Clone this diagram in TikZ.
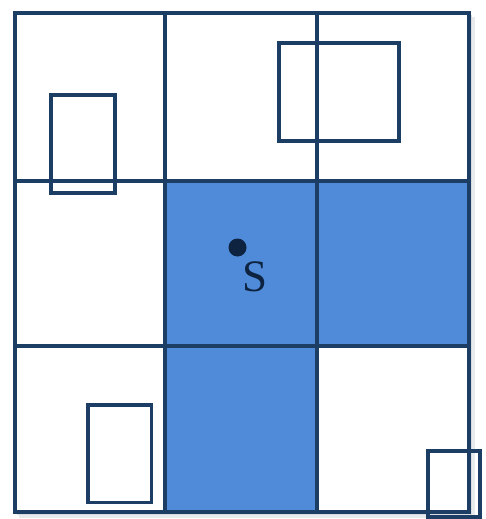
\documentclass[tikz,border=0pt]{standalone}
\usepackage{fontspec}
\setmainfont{Liberation Serif}
\definecolor{gridline}{HTML}{1C3D64}
\definecolor{dotcol}{HTML}{0D2340}
\definecolor{cellblue}{HTML}{4F8BD9}
\definecolor{shadowgray}{HTML}{D9DDE2}
\tikzset{
  gridpen/.style={draw=gridline, line width=3.2pt},
  boxpen/.style={draw=gridline, line width=3.2pt},
  bluecell/.style={fill=cellblue},
}
\begin{document}
\begin{tikzpicture}[x=1pt,y=-1pt]
\useasboundingbox (0,0) rectangle (485,519);
\fill[white] (0,0) rectangle (485,519);
% soft shadow
\fill[shadowgray!60] (19,17) rectangle (475,518);
\fill[shadowgray] (17,15) rectangle (472,515);
\fill[white] (15,13) rectangle (469,512);
% shaded cells
\fill[bluecell] (165,181) rectangle (469,346);
\fill[bluecell] (165,346) rectangle (317,512);
% grid
\draw[gridpen] (15,13) rectangle (469,512);
\draw[gridpen] (165,13) -- (165,512);
\draw[gridpen] (317,13) -- (317,512);
\draw[gridpen] (15,181) -- (469,181);
\draw[gridpen] (15,346) -- (469,346);
% small boxes
\draw[boxpen] (51,95) rectangle (115,193);
\draw[boxpen] (279,43) rectangle (399,141);
\draw[boxpen] (88,405) rectangle (151.5,502.5);
\draw[boxpen] (428,451) rectangle (480,517);
% point S
\fill[dotcol] (237.5,247.5) circle (9);
\node[text=dotcol, font=\fontsize{45}{45}\selectfont, inner sep=0pt] (s) at (255,277) {S};
\end{tikzpicture}
\end{document}
